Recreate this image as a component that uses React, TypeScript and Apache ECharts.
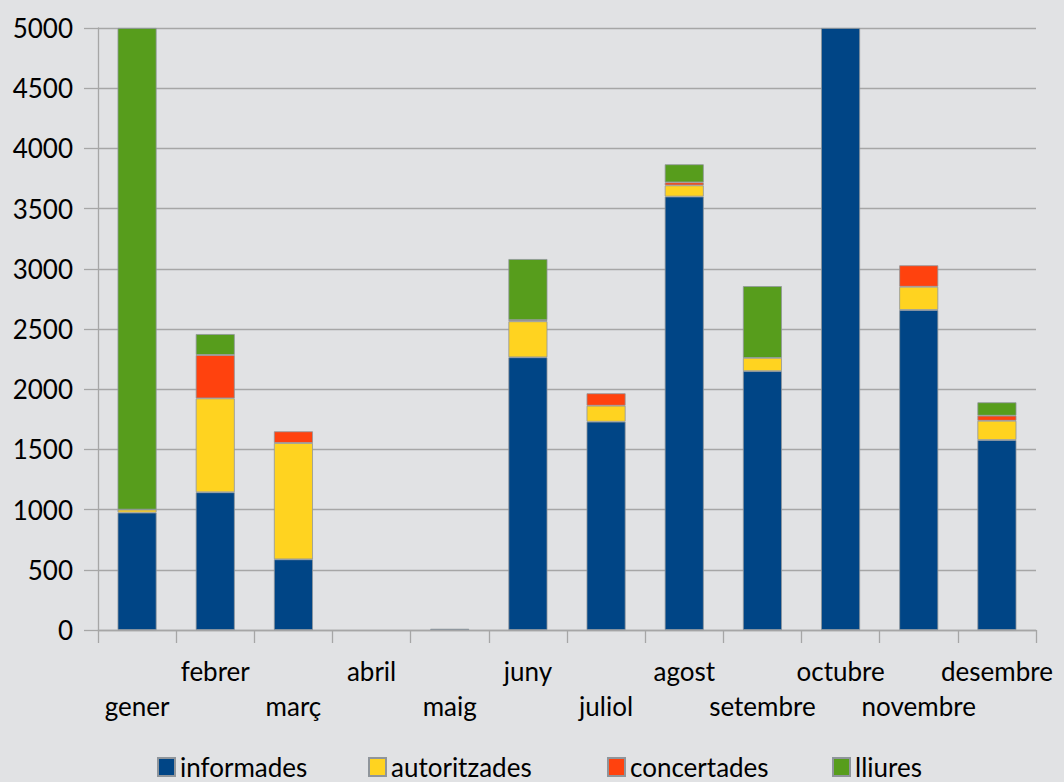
import React, { useEffect, useRef } from "react";
import * as echarts from "echarts";

const months = ["gener", "febrer", "març", "abril", "maig", "juny", "juliol", "agost", "setembre", "octubre", "novembre", "desembre"];
const informades = [975, 1144, 587, 0, 10, 2265, 1730, 3600, 2150, 5000, 2658, 1578];
const autoritzades = [25, 780, 966, 0, 0, 299, 133, 93, 110, 0, 193, 160];
const concertades = [0, 360, 97, 0, 0, 10, 103, 25, 0, 0, 178, 42];
const lliures = [4000, 174, 0, 0, 0, 507, 0, 150, 596, 0, 0, 111];
const yTicks = { min: 0, max: 5000, interval: 500 };

const seriesNames = ["informades", "autoritzades", "concertades", "lliures"];
const seriesData = [informades, autoritzades, concertades, lliures];
const colors = ["#004586", "#ffd320", "#ff420e", "#579d1c"];
const legendLefts = [157, 368, 607, 832];

const FONT = "Lato";

export default function App() {
  const ref = useRef<HTMLDivElement>(null);
  useEffect(() => {
    if (!ref.current) return;
    const chart = echarts.init(ref.current, null, { renderer: "svg" });
    chart.setOption({
      animation: false,
      backgroundColor: "#e1e2e4",
      textStyle: { fontFamily: FONT },
      grid: { left: 98, right: 28, top: 28, bottom: 152 },
      legend: seriesNames.map((n, i) => ({
        data: [n],
        left: legendLefts[i],
        top: 754,
        width: 200,
        icon: "rect",
        itemWidth: 17,
        itemHeight: 18,
        itemGap: 9,
        padding: 0,
        textStyle: { fontSize: 26, lineHeight: 26, color: "#000", fontFamily: FONT },
      })),
      xAxis: {
        type: "category",
        data: months,
        boundaryGap: true,
        axisLine: { show: true, lineStyle: { color: "#a6a6a6", width: 1.3 } },
        axisTick: { show: true, length: 13, lineStyle: { color: "#a6a6a6", width: 1.3 } },
        axisLabel: {
          interval: 0,
          margin: 23,
          fontSize: 26,
          lineHeight: 35,
          color: "#000",
          fontFamily: FONT,
          formatter: (v: string, i: number) => (i % 2 === 0 ? "\n" + v : v),
        },
        splitLine: { show: false },
      },
      yAxis: {
        type: "value",
        min: yTicks.min,
        max: yTicks.max,
        interval: yTicks.interval,
        axisLine: { show: true, lineStyle: { color: "#a6a6a6", width: 1.3 } },
        axisTick: { show: true, length: 14, lineStyle: { color: "#a6a6a6", width: 1.3 } },
        axisLabel: {
          margin: 25,
          fontSize: 26,
          color: "#000",
          fontFamily: FONT,
          formatter: (v: number) => String(v),
        },
        splitLine: { show: true, lineStyle: { color: "#a6a6a6", width: 1.3 } },
      },
      series: seriesNames.map((n, i) => ({
        name: n,
        type: "bar",
        stack: "total",
        barWidth: 39,
        data: seriesData[i].map((v) => (v === 0 ? "-" : v)),
        itemStyle: { color: colors[i], borderColor: "#8f959b", borderWidth: 0.8 },
      })),
    });
    return () => chart.dispose();
  }, []);
  return (
    <div
      ref={ref}
      style={{ position: "fixed", left: 0, top: 0, width: 1064, height: 782 }}
    />
  );
}
